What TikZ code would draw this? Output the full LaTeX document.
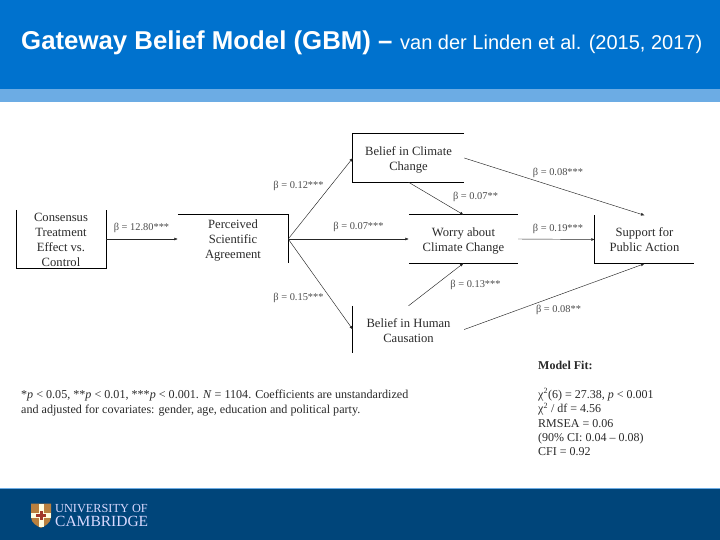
\documentclass[tikz,border=0pt]{standalone}
\usepackage{fontspec}
\setmainfont{Liberation Serif}
\newfontfamily\headfont{Liberation Sans}
\usetikzlibrary{arrows.meta}
\definecolor{hdrblue}{HTML}{0072CE}
\definecolor{bandblue}{HTML}{6CACE4}
\definecolor{footblue}{HTML}{00457A}
\definecolor{inkgray}{HTML}{2A2A2A}
\definecolor{shieldgold}{HTML}{B9803F}
\definecolor{shieldred}{HTML}{A2382B}
\newcommand{\boxtext}[1]{\raisebox{-5pt}[0pt][0pt]{\begin{tabular}{@{}c@{}}#1\end{tabular}}}
\tikzset{
  varbox/.style={inner sep=0pt,font=\fontsize{12.6}{15}\selectfont,text=inkgray},
  edgeline/.style={line width=0.8pt,black},
  conn/.style={line width=0.45pt,black!85,-{Latex[length=3.5pt,width=3pt]}},
  coef/.style={inner sep=0pt,font=\fontsize{10.4}{12}\selectfont,text=black!70},
  noteblock/.style={inner sep=0pt,align=left,anchor=north west,text=inkgray},
}
\begin{document}
\begin{tikzpicture}[x=1pt,y=-1pt]
\useasboundingbox (0,0) rectangle (720,540);
\fill[white] (0,0) rectangle (720,540);
\fill[hdrblue] (0,0) rectangle (720,89);
\fill[bandblue] (0,89) rectangle (720,102);
\fill[footblue] (0,488) rectangle (720,540);
\draw[bandblue,line width=0.6pt] (0,488) -- (720,488);
% title
\node[inner sep=0pt,anchor=base west,text=white,font=\headfont\fontsize{25.8}{28}\selectfont] (title) at (21,49.5)
  {\textbf{Gateway Belief Model (GBM) –}};
\node[inner sep=0pt,anchor=base west,text=white,font=\headfont\fontsize{20}{24}\selectfont] (authors) at (400,49.5)
  {van der Linden et al. (2015, 2017)};
% boxes
\node[varbox,minimum width=89.5pt,minimum height=58pt] (cons) at (61,239) {\boxtext{Consensus\\Treatment\\Effect vs.\\Control}};
\node[varbox,minimum width=110pt,minimum height=48pt] (perc) at (233,239) {\boxtext{Perceived\\Scientific\\Agreement}};
\node[varbox,minimum width=111pt,minimum height=48pt] (clim) at (408.5,158) {\boxtext{Belief in Climate\\Change}};
\node[varbox,minimum width=109pt,minimum height=48pt] (worry) at (463.5,239) {\boxtext{Worry about\\Climate Change}};
\node[varbox,minimum width=111pt,minimum height=47pt] (human) at (408.5,329.5) {\boxtext{Belief in Human\\Causation}};
\node[varbox,minimum width=99pt,minimum height=48pt] (supp) at (644.5,239.5) {\boxtext{Support for\\Public Action}};
% partial borders
\draw[edgeline] (cons.north west) -- (cons.south west) -- (cons.south east) -- (cons.north east);
\draw[edgeline] (perc.north west) -- (perc.north east) -- (perc.south east);
\draw[edgeline] (clim.north east) -- (clim.north west) -- (clim.south west) -- (clim.south east);
\draw[edgeline] (worry.north west) -- (worry.north east);
\draw[edgeline] (worry.south west) -- (worry.south east);
\draw[edgeline] (human.north west) -- (human.south west);
\draw[edgeline] (supp.north west) -- (supp.south west) -- (supp.south east);
% connectors
\draw[conn] (cons) -- (perc);
\draw[conn] (perc.east) -- (clim.west);
\draw[conn] (perc.east) -- (worry.west);
\draw[conn] (perc.east) -- (human.west);
\draw[conn] (clim.south) -- (worry.north);
\draw[conn] (human.north) -- (worry.south);
\draw[conn] (worry.east) -- (supp.west);
\draw[conn] (clim.east) -- (supp.north);
\draw[conn] (human.east) -- (supp.south);
% coefficients
\node[coef] (c1) at (141.5,227.5) {β = 12.80***};
\node[coef] (c2) at (298.5,185.5) {β = 0.12***};
\node[coef] (c3) at (298.5,297.5) {β = 0.15***};
\node[coef] (c4) at (358.5,226.5) {β = 0.07***};
\node[coef] (c5) at (475.5,196.5) {β = 0.07**};
\node[coef] (c6) at (475.5,284.5) {β = 0.13***};
\node[coef] (c7) at (558,172.5) {β = 0.08***};
\node[coef] (c8) at (558,228.5) {β = 0.19***};
\node[coef] (c9) at (558.5,309.5) {β = 0.08**};
% notes
\node[noteblock,font=\fontsize{12.1}{14.5}\selectfont] (note) at (21,390)
  {*\textit{p} < 0.05, **\textit{p} < 0.01, ***\textit{p} < 0.001. \textit{N} = 1104. Coefficients are unstandardized\\and adjusted for covariates: gender, age, education and political party.};
\node[noteblock,font=\fontsize{12}{14.4}\selectfont] (fit) at (538,361)
  {\textbf{Model Fit:}\\[14.4pt]χ\textsuperscript{2}(6) = 27.38, \textit{p} < 0.001\\χ\textsuperscript{2} / df = 4.56\\RMSEA = 0.06\\(90\% CI: 0.04 – 0.08)\\CFI = 0.92};
% logo
\fill[shieldgold] (31,503.5) -- (51,503.5) -- (51,517) .. controls (51,523) and (45,526) .. (41,528) .. controls (37,526) and (31,523) .. (31,517) -- cycle;
\fill[white!88!yellow] (38.5,503.5) rectangle (43.5,527);
\fill[white!88!yellow] (31,512.5) rectangle (51,518);
\fill[shieldred] (39.5,511) rectangle (42.5,520);
\fill[shieldred] (36,513.5) rectangle (46,517);
\node[inner sep=0pt,anchor=base west,text=white!85!blue,font=\fontsize{12.3}{13}\selectfont] (uni) at (55,512) {UNIVERSITY OF};
\node[inner sep=0pt,anchor=base west,text=white!85!blue,font=\fontsize{15.5}{16}\selectfont] (cam) at (55,526) {CAMBRIDGE};
\end{tikzpicture}
\end{document}
